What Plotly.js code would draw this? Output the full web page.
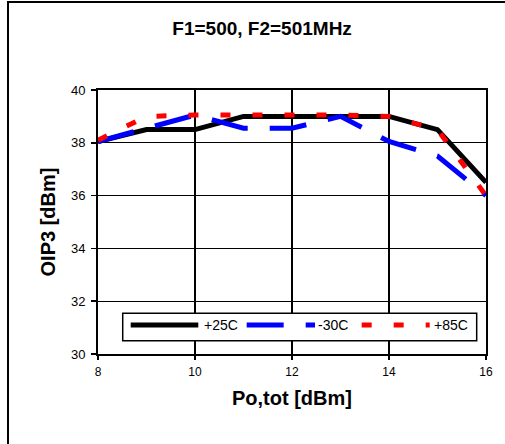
<!DOCTYPE html>
<html>
<head>
<meta charset="utf-8">
<script src="https://cdn.plot.ly/plotly-3.0.1.min.js"></script>
<style>
  html, body { margin: 0; padding: 0; width: 505px; height: 444px; overflow: hidden; background: #fff; }
  #frame { position: absolute; left: 7px; top: 1px; width: 520px; height: 470px; border: 2px solid #000; box-sizing: border-box; pointer-events: none; z-index: 5; }
  #chart { position: absolute; left: 0; top: 0; width: 505px; height: 444px; }
</style>
</head>
<body>
<div id="chart"></div>
<div id="frame"></div>
<script>
// Data
const poTot = [8, 9, 10, 11, 12, 13, 14, 15, 16];
const oip3_25C = [38.05, 38.5, 38.5, 39.0, 39.0, 39.0, 39.0, 38.5, 36.5];
const oip3_m30C = [38.05, 38.55, 39.05, 38.55, 38.55, 39.0, 38.05, 37.5, 36.0];
const oip3_85C = [38.1, 39.0, 39.05, 39.05, 39.05, 39.05, 39.0, 38.5, 36.0];
const seriesNames = ['+25C', '-30C', '+85C'];
const xTicks = [8, 10, 12, 14, 16];
const yTicks = [30, 32, 34, 36, 38, 40];

const FONT = 'Liberation Sans, Arial, sans-serif';
const colors = ['#000000', '#0000ff', '#ff0000'];
const dashes = ['solid', '37px,22px', '10px,22px'];
const series = [oip3_25C, oip3_m30C, oip3_85C];

const traces = series.map((ys, i) => ({
  type: 'scatter',
  mode: 'lines',
  x: poTot,
  y: ys,
  name: seriesNames[i],
  line: { color: colors[i], width: 5, dash: dashes[i] },
  showlegend: false,
  hoverinfo: 'skip'
}));

// custom legend (box, symbols, labels) in paper coordinates
const legSym = [[0.0843, 0.2585], [0.3832, 0.5593], [0.6796, 0.8549]];
const legTextX = [0.2698, 0.5652, 0.8642];
const legY = 0.1098;
const shapes = [{
  type: 'rect', xref: 'paper', yref: 'paper',
  x0: 0.0637, x1: 0.976, y0: 0.0504, y1: 0.154,
  fillcolor: '#ffffff', line: { color: '#000', width: 1.5 }, layer: 'above'
}];
const annotations = [];
seriesNames.forEach((n, i) => {
  shapes.push({
    type: 'line', xref: 'paper', yref: 'paper',
    x0: legSym[i][0], x1: legSym[i][1], y0: legY, y1: legY,
    line: { color: colors[i], width: 5, dash: dashes[i] }, layer: 'above'
  });
  annotations.push({
    xref: 'paper', yref: 'paper', x: legTextX[i], y: legY,
    xanchor: 'left', yanchor: 'middle', text: n, showarrow: false,
    font: { family: FONT, size: 14, color: '#000' }, borderpad: 0
  });
});

const layout = {
  width: 505, height: 444,
  margin: { l: 98, r: 19, t: 90, b: 90 },
  paper_bgcolor: '#ffffff', plot_bgcolor: '#ffffff',
  title: {
    text: '<b>F1=500, F2=501MHz</b>',
    font: { family: FONT, size: 19, color: '#000' },
    xref: 'container', yref: 'container', x: 0.519, y: 0.936,
    xanchor: 'center', yanchor: 'middle'
  },
  xaxis: {
    range: [8, 16], tickvals: xTicks, ticktext: xTicks.map(String),
    showgrid: true, gridcolor: '#000', gridwidth: 1.3,
    showline: true, mirror: true, linecolor: '#000', linewidth: 2,
    ticks: 'outside', ticklen: 4, tickcolor: '#000', tickwidth: 1.5,
    ticklabelstandoff: 2,
    tickfont: { family: FONT, size: 12, color: '#000' },
    zeroline: false, fixedrange: true,
    title: { text: '<b>Po,tot [dBm]</b>', font: { family: FONT, size: 20, color: '#000' }, standoff: 13 }
  },
  yaxis: {
    range: [30, 40], tickvals: yTicks, ticktext: yTicks.map(String),
    showgrid: true, gridcolor: '#000', gridwidth: 1.3,
    showline: true, mirror: true, linecolor: '#000', linewidth: 2,
    ticks: 'outside', ticklen: 5, tickcolor: '#000', tickwidth: 1.5,
    ticklabelstandoff: 3,
    tickfont: { family: FONT, size: 13, color: '#000' },
    zeroline: false, fixedrange: true,
    title: { text: '<b>OIP3 [dBm]</b>', font: { family: FONT, size: 20, color: '#000' }, standoff: 10 }
  },
  shapes: shapes,
  annotations: annotations,
  showlegend: false
};

Plotly.newPlot('chart', traces, layout, { displayModeBar: false, staticPlot: true });
</script>
</body>
</html>
